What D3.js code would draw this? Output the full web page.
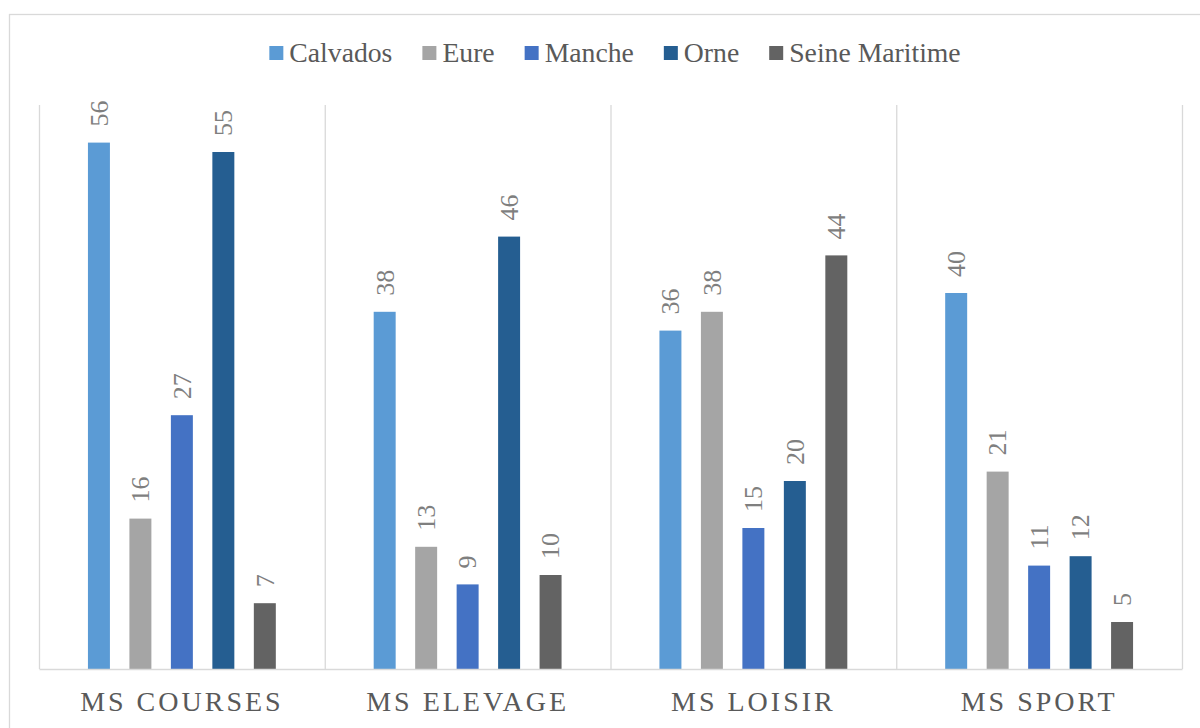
<!DOCTYPE html>
<html><head><meta charset="utf-8">
<script src="https://cdn.jsdelivr.net/npm/d3@7"></script>
<style>html,body{margin:0;padding:0;background:#fff;}svg{display:block;}</style>
</head><body>
<script>
const categories = ["MS COURSES", "MS ELEVAGE", "MS LOISIR", "MS SPORT"];
const seriesNames = ["Calvados", "Eure", "Manche", "Orne", "Seine Maritime"];
const calvados = [56, 38, 36, 40];
const eure = [16, 13, 38, 21];
const manche = [27, 9, 15, 11];
const orne = [55, 46, 20, 12];
const seineMaritime = [7, 10, 44, 5];
const colors = ["#5B9BD5", "#A5A5A5", "#4472C4", "#255E91", "#636363"];
const yMax = 60;

const seriesValues = [calvados, eure, manche, orne, seineMaritime];
const W = 1200, H = 728;
const FONT = "'Liberation Serif','Times New Roman',Times,serif";
const svg = d3.select("body").append("svg").attr("width", W).attr("height", H);
svg.append("rect").attr("width", W).attr("height", H).attr("fill", "#fff");
// chart border
svg.append("rect").attr("x", 9.5).attr("y", 14.5).attr("width", W + 10).attr("height", H + 10)
  .attr("fill", "none").attr("stroke", "#D9D9D9").attr("stroke-width", 1.3);

const plot = {left: 39, right: 1182, top: 105, bottom: 669};
const x0 = d3.scaleBand().domain(categories).range([plot.left, plot.right]).padding(0);
const x1 = d3.scaleBand().domain(seriesNames).range([0, x0.bandwidth()]).paddingInner(0.47).paddingOuter(1.18);
const y = d3.scaleLinear().domain([0, yMax]).range([plot.bottom, plot.top]);

// vertical separators
const seps = categories.map(c => x0(c)).concat([plot.right]);
svg.append("g").selectAll("line").data(seps).join("line")
  .attr("x1", d => d + 0.5).attr("x2", d => d + 0.5)
  .attr("y1", plot.top).attr("y2", plot.bottom)
  .attr("stroke", "#D9D9D9").attr("stroke-width", 1.3);

// bars
const groups = svg.append("g").selectAll("g").data(categories).join("g")
  .attr("transform", c => `translate(${x0(c)},0)`);
groups.each(function(c, ci) {
  const g = d3.select(this);
  const data = seriesNames.map((s, si) => ({s, si, v: seriesValues[si][ci]}));
  g.selectAll("rect").data(data).join("rect")
    .attr("x", d => x1(d.s)).attr("width", x1.bandwidth())
    .attr("y", d => y(d.v)).attr("height", d => y(0) - y(d.v))
    .attr("fill", d => colors[d.si]);
  g.selectAll("text").data(data).join("text")
    .attr("transform", d => `translate(${x1(d.s) + x1.bandwidth()/2},${y(d.v) - 16}) rotate(-90)`)
    .attr("dy", "0.34em")
    .attr("text-anchor", "start")
    .style("font-family", FONT)
    .style("font-size", "26px").attr("fill", "#7F7F7F")
    .text(d => d.v);
});

// x axis
const xAxis = d3.axisBottom(x0).tickSize(0).tickPadding(22);
const ax = svg.append("g").attr("transform", `translate(0,${plot.bottom})`).call(xAxis);
ax.select(".domain").attr("stroke", "#D9D9D9").attr("stroke-width", 1.5);
ax.selectAll("text").style("font-family", FONT)
  .style("font-size", "28px").attr("fill", "#595959").attr("letter-spacing", "3px").attr("dy", "0.71em");

// legend
const legend = svg.append("g");
let lx = 0;
seriesNames.forEach((s, i) => {
  const g = legend.append("g");
  g.append("rect").attr("x", lx).attr("y", -7).attr("width", 14).attr("height", 14).attr("fill", colors[i]);
  const t = g.append("text").attr("x", lx + 20).attr("y", 0).attr("dy", "0.33em")
    .style("font-family", FONT).style("font-size", "27.7px").attr("fill", "#595959").text(s);
  lx += 20 + t.node().getComputedTextLength() + 30;
});
const totalW = lx - 30;
legend.attr("transform", `translate(${(W - totalW)/2 + 15},53)`);
</script>
</body></html>
